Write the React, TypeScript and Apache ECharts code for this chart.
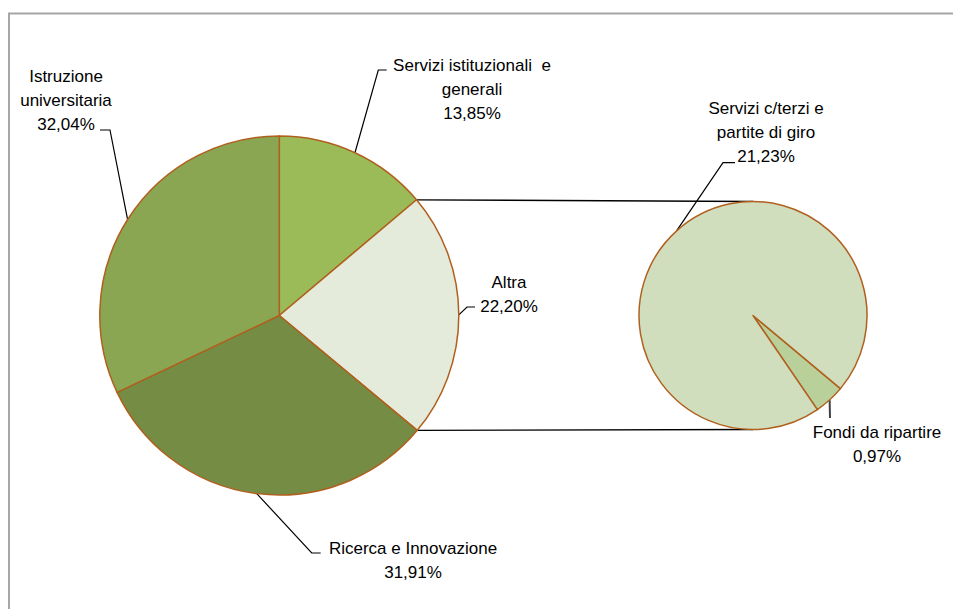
import React, { useEffect, useRef } from "react";
import * as echarts from "echarts";

// ---- data ----
const mainCategories = [
  "Servizi istituzionali  e\ngenerali",
  "Altra",
  "Ricerca e Innovazione",
  "Istruzione\nuniversitaria",
];
const mainValues = [13.85, 22.2, 31.91, 32.04];
const mainColors = ["#9BBB59", "#E5EBDA", "#748C43", "#8AA652"];

const subCategories = ["Fondi da ripartire", "Servizi c/terzi e\npartite di giro"];
const subValues = [0.97, 21.23];
const subColors = ["#B9D09A", "#D1DEBE"];

// ---- layout ----
const W = 953;
const H = 609;
const C1 = [279.3, 315.5];
const R1 = 179.5;
const C2 = [753, 315.5];
const R2 = 114;
const SUB_START = -39.9;
const BORDER = "#B0601E";

// label placements: center and leader-line bends (series index -> data index)
const labelPlacement: Record<string, { x: number; y: number; line: number[][] }> = {
  "0-0": { x: 472, y: 89, line: [[378.3, 70], [386.7, 70]] },
  "0-1": { x: 509, y: 294, line: [[467, 307], [475, 307]] },
  "0-2": { x: 413, y: 560, line: [[311.7, 553], [320.7, 553]] },
  "0-3": { x: 66, y: 100, line: [[110, 130], [100, 130]] },
  "1-0": { x: 877, y: 444, line: [[830, 418]] },
  "1-1": { x: 766, y: 132, line: [[723, 162.7], [735, 162.7]] },
};

const fmt = (v: number) => v.toFixed(2).replace(".", ",") + "%";

export default function App() {
  const ref = useRef<HTMLDivElement>(null);
  useEffect(() => {
    if (!ref.current) return;
    const chart = echarts.init(ref.current, null, { renderer: "svg" });

    const total = mainValues.reduce((a, b) => a + b, 0);
    const aStart = (mainValues[0] / total) * Math.PI * 2;
    const aEnd = ((mainValues[0] + mainValues[1]) / total) * Math.PI * 2;
    const p1 = [C1[0] + R1 * Math.sin(aStart), C1[1] - R1 * Math.cos(aStart)];
    const p2 = [C1[0] + R1 * Math.sin(aEnd), C1[1] - R1 * Math.cos(aEnd)];

    const textStyle = {
      fontFamily: "Liberation Sans, Arial, sans-serif",
      fontSize: 17,
      lineHeight: 24,
      color: "#000",
    };

    const labelLayout = (params: any) => {
      const key = `${params.seriesIndex}-${params.dataIndex}`;
      const p = labelPlacement[key];
      if (!p) return {};
      const edge = params.labelLinePoints ? params.labelLinePoints[0] : p.line[0];
      const pts = [edge, ...p.line];
      if (pts.length === 2) pts.splice(1, 0, p.line[0]);
      return {
        x: p.x,
        y: p.y,
        align: "center",
        verticalAlign: "middle",
        labelLinePoints: pts,
      };
    };

    chart.setOption({
      animation: false,
      backgroundColor: "#fff",
      graphic: [
        {
          type: "rect",
          shape: { x: 9, y: 13.5, width: 1000, height: 700 },
          style: { fill: "none", stroke: "#A6A6A6", lineWidth: 2 },
          silent: true,
          z: 0,
        },
        {
          type: "line",
          shape: { x1: p1[0], y1: p1[1], x2: C2[0], y2: C2[1] - R2 },
          style: { stroke: "#000", lineWidth: 1.3 },
          z: 1,
        },
        {
          type: "line",
          shape: { x1: p2[0], y1: p2[1], x2: C2[0], y2: C2[1] + R2 },
          style: { stroke: "#000", lineWidth: 1.3 },
          z: 1,
        },
      ],
      series: [
        {
          type: "pie",
          center: C1,
          radius: R1,
          startAngle: 90,
          clockwise: true,
          avoidLabelOverlap: false,
          z: 2,
          itemStyle: { borderColor: BORDER, borderWidth: 1.5 },
          label: {
            show: true,
            position: "outside",
            formatter: (p: any) => `${p.name}\n${fmt(p.value)}`,
            ...textStyle,
          },
          labelLine: { show: true, lineStyle: { color: "#000", width: 1.2 } },
          labelLayout,
          emphasis: { disabled: true },
          data: mainCategories.map((n, i) => ({
            name: n,
            value: mainValues[i],
            itemStyle: { color: mainColors[i] },
          })),
        },
        {
          type: "pie",
          center: C2,
          radius: R2,
          startAngle: SUB_START,
          clockwise: true,
          avoidLabelOverlap: false,
          z: 2,
          itemStyle: { borderColor: BORDER, borderWidth: 1.5 },
          label: {
            show: true,
            position: "outside",
            formatter: (p: any) => `${p.name}\n${fmt(p.value)}`,
            ...textStyle,
          },
          labelLine: { show: true, lineStyle: { color: "#000", width: 1.2 } },
          labelLayout,
          emphasis: { disabled: true },
          data: subCategories.map((n, i) => ({
            name: n,
            value: subValues[i],
            itemStyle: { color: subColors[i] },
            labelLine: i === 0 ? { lineStyle: { color: "#404040", width: 2 } } : undefined,
          })),
        },
      ],
    });
    return () => chart.dispose();
  }, []);
  return (
    <div
      ref={ref}
      style={{ position: "fixed", left: 0, top: 0, width: W, height: H, background: "#fff" }}
    />
  );
}
